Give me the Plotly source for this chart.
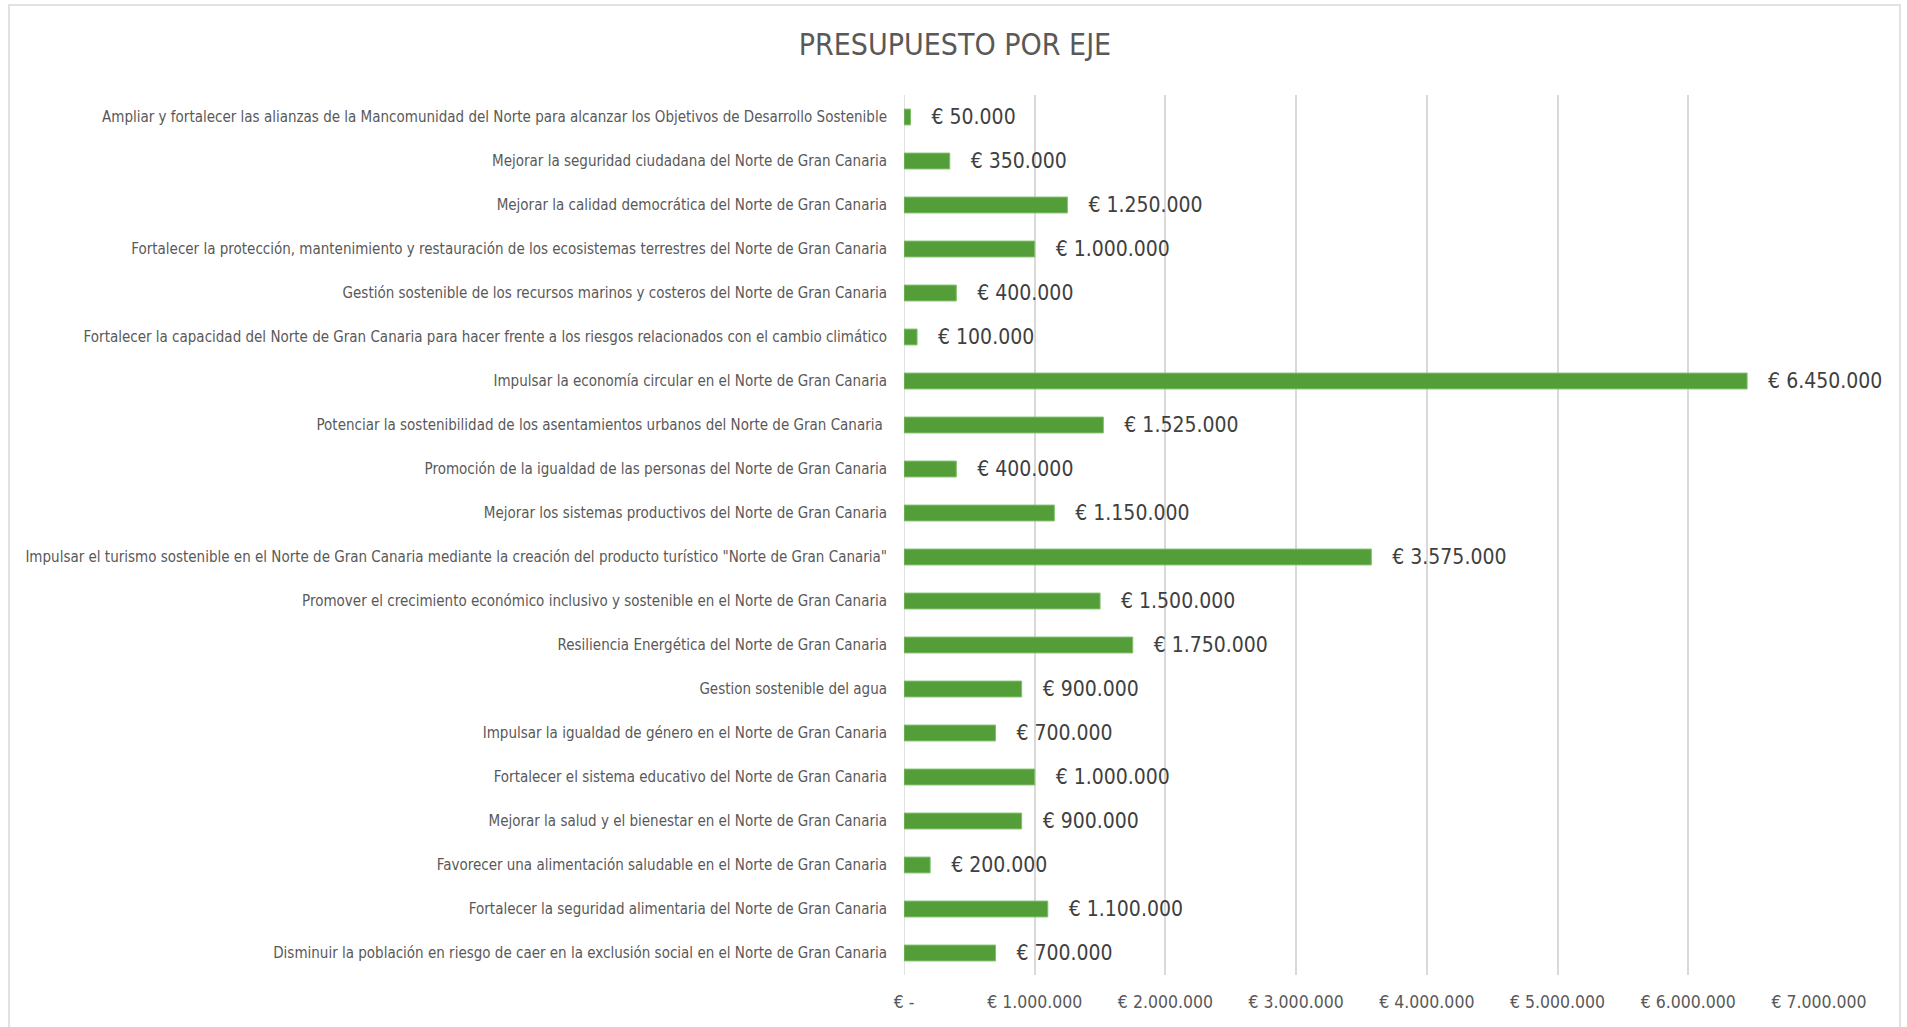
import plotly.graph_objects as go

categories = [
    "Ampliar y fortalecer las alianzas de la Mancomunidad del Norte para alcanzar los Objetivos de Desarrollo Sostenible",
    "Mejorar la seguridad ciudadana del Norte de Gran Canaria",
    "Mejorar la calidad democrática del Norte de Gran Canaria",
    "Fortalecer la protección, mantenimiento y restauración de los ecosistemas terrestres del Norte de Gran Canaria",
    "Gestión sostenible de los recursos marinos y costeros del Norte de Gran Canaria",
    "Fortalecer la capacidad del Norte de Gran Canaria para hacer frente a los riesgos relacionados con el cambio climático",
    "Impulsar la economía circular en el Norte de Gran Canaria",
    "Potenciar la sostenibilidad de los asentamientos urbanos del Norte de Gran Canaria\u00a0",
    "Promoción de la igualdad de las personas del Norte de Gran Canaria",
    "Mejorar los sistemas productivos del Norte de Gran Canaria",
    "Impulsar el turismo sostenible en el Norte de Gran Canaria mediante la creación del producto turístico \"Norte de Gran Canaria\"",
    "Promover el crecimiento económico inclusivo y sostenible en el Norte de Gran Canaria",
    "Resiliencia Energética del Norte de Gran Canaria",
    "Gestion sostenible del agua",
    "Impulsar la igualdad de género en el Norte de Gran Canaria",
    "Fortalecer el sistema educativo del Norte de Gran Canaria",
    "Mejorar la salud y el bienestar en el Norte de Gran Canaria",
    "Favorecer una alimentación saludable en el Norte de Gran Canaria",
    "Fortalecer la seguridad alimentaria del Norte de Gran Canaria",
    "Disminuir la población en riesgo de caer en la exclusión social en el Norte de Gran Canaria",
]
values = [50000, 350000, 1250000, 1000000, 400000, 100000, 6450000, 1525000, 400000,
          1150000, 3575000, 1500000, 1750000, 900000, 700000, 1000000, 900000, 200000,
          1100000, 700000]
tick_vals = [0, 1000000, 2000000, 3000000, 4000000, 5000000, 6000000, 7000000]
tick_text = ["€ -", "€ 1.000.000", "€ 2.000.000", "€ 3.000.000", "€ 4.000.000",
             "€ 5.000.000", "€ 6.000.000", "€ 7.000.000"]
title_text = "PRESUPUESTO POR EJE"

FONT = "Liberation Sans Narrow, Arial Narrow, DejaVu Sans Condensed, sans-serif"
GREY = "#595959"

fig = go.Figure(go.Bar(
    x=values, y=categories, orientation="h",
    marker=dict(color="#549E39", line=dict(color="#7FBF6A", width=1)),
    width=0.36,
    texttemplate="\u00a0\u00a0\u00a0€ %{x:,.0f}",
    textposition="outside",
    constraintext="none",
    textfont=dict(family=FONT, size=21, color="#404040"),
    cliponaxis=False,
))

fig.update_layout(
    width=1907, height=1027,
    separators=",.",
    paper_bgcolor="white", plot_bgcolor="white",
    margin=dict(l=904, r=88, t=95, b=52, autoexpand=False),
    title=dict(text=title_text, x=955 / 1907, xref="container", xanchor="center",
               y=1 - 44 / 1027, yref="container", yanchor="middle",
               font=dict(family=FONT, size=30, color=GREY)),
    font=dict(family=FONT, color=GREY),
    showlegend=False,
    xaxis=dict(range=[0, 7000000], tickvals=tick_vals, ticktext=tick_text,
               showgrid=True, gridcolor="#D9D9D9", gridwidth=1.5,
               zeroline=False, showline=False,
               tickfont=dict(family=FONT, size=17.5, color=GREY),
               ticklabelstandoff=14),
    yaxis=dict(autorange="reversed", showgrid=False, zeroline=False,
               showline=False,
               tickfont=dict(family=FONT, size=15, color=GREY),
               ticklabelstandoff=16),
    shapes=[
        dict(type="line", xref="x", yref="paper", x0=0, x1=0, y0=0, y1=1,
             line=dict(color="#D9D9D9", width=1.5), layer="below"),
        dict(type="rect", xref="paper", yref="paper",
             x0=(9 - 904) / 915, x1=(1900 - 904) / 915,
             y0=(975 - 1040) / 880, y1=(975 - 5) / 880,
             line=dict(color="#D9D9D9", width=1.5), fillcolor="rgba(0,0,0,0)",
             layer="below"),
    ],
)

fig.write_html("out.html", config={"displayModeBar": False},
               post_script="document.body.style.margin='0';")
